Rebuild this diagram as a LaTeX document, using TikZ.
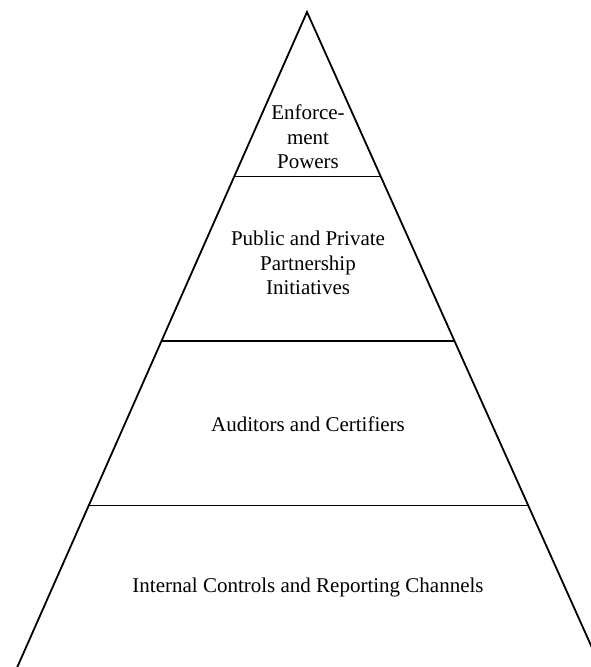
\documentclass[tikz,border=0pt]{standalone}
\usepackage{fontspec}
\setmainfont{Liberation Serif}
\usepackage{tikz}
\usetikzlibrary{calc}

\begin{document}
\begin{tikzpicture}[x=1pt, y=-1pt, font=\fontsize{21}{24.5}\selectfont]
\tikzset{
  tier/.style={align=center, inner sep=0pt},
  edge/.style={draw, line width=1.8pt, line join=miter},
}
\useasboundingbox (0,0) rectangle (591,667);
\clip (0,0) rectangle (591,667);
\coordinate (apex) at (307,12);
\coordinate (bl) at (16,670);
\coordinate (br) at (602,670);
\draw[edge] (bl) -- (apex) -- (br);
\foreach \f in {0.25,0.5,0.75}
  \draw[edge] ($(apex)!\f!(bl)$) -- ($(apex)!\f!(br)$);
\node[tier] (enf) at (308,137) {Enforce-\\ ment\\ Powers};
\node[tier] (ppp) at (308,263) {Public and Private\\ Partnership\\ Initiatives};
\node[tier] (aud) at (308,424) {Auditors and Certifiers};
\node[tier] (icr) at (308,587) {Internal Controls and Reporting Channels};
\end{tikzpicture}
\end{document}
